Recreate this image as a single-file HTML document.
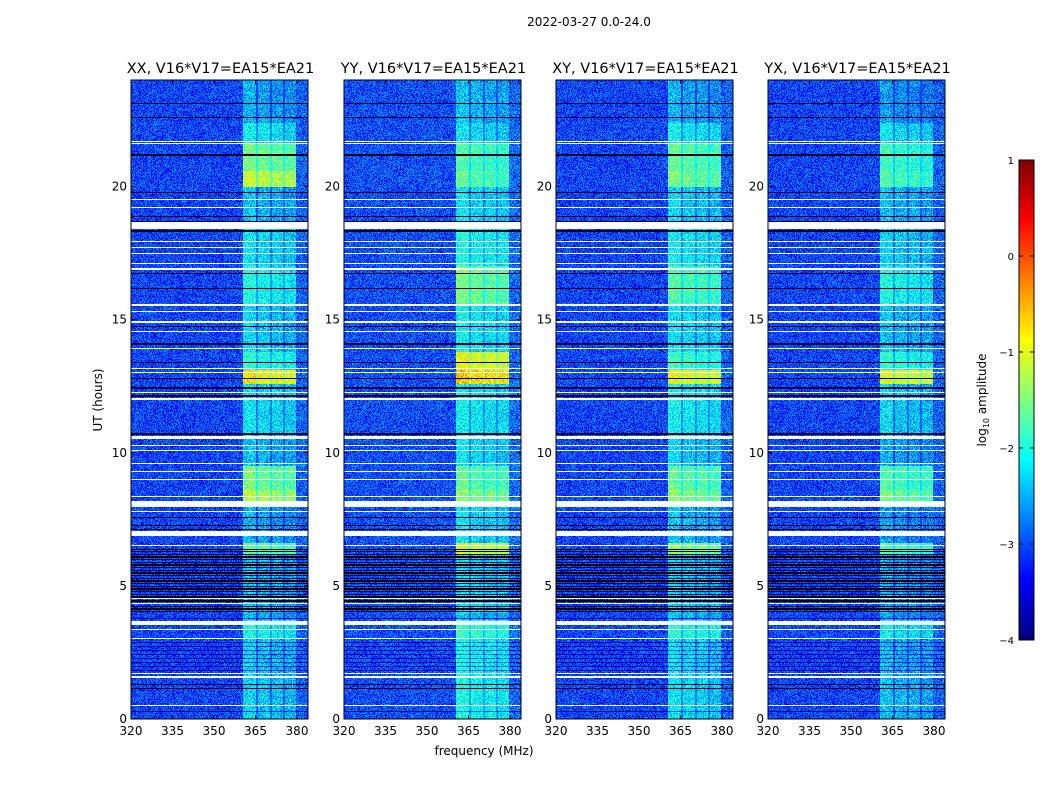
<!DOCTYPE html>
<html><head><meta charset="utf-8">
<style>
body{margin:0;background:#fff;width:1050px;height:800px;overflow:hidden;position:relative;font-family:"DejaVu Sans",sans-serif}
canvas{position:absolute;image-rendering:pixelated}
svg{position:absolute;left:0;top:0}
text{font-family:"DejaVu Sans","Liberation Sans",sans-serif;fill:#000}
</style></head>
<body>
<canvas id="c0" width="177" height="639" style="left:131px;top:80px"></canvas>
<canvas id="c1" width="177" height="639" style="left:344px;top:80px"></canvas>
<canvas id="c2" width="177" height="639" style="left:556px;top:80px"></canvas>
<canvas id="c3" width="177" height="639" style="left:768px;top:80px"></canvas>
<canvas id="cb" width="15" height="480" style="left:1019px;top:160px"></canvas>
<svg id="ov" width="1050" height="800"></svg>
<script>
const panelTitles=["XX, V16*V17=EA15*EA21","YY, V16*V17=EA15*EA21","XY, V16*V17=EA15*EA21","YX, V16*V17=EA15*EA21"];
const xTicks=[320,335,350,365,380];
const yTicks=[0,5,10,15,20];
const cbTicks=[1,0,-1,-2,-3,-4];
const segStart=[0,3,3.7,4,6.2,6.6,8.1,8.6,9.5,10.6,12.6,13.1,13.8,15.5,17,18.7,20,20.6,21.6,22.4];
const segEnd=[3,3.7,4,6.2,6.6,8.1,8.6,9.5,10.6,12.6,13.1,13.8,15.5,17,18.4,20,20.6,21.6,22.4,24];
const levelXX=[-2.3,-2.0,-2.5,-2.4,-1.6,-2.5,-1.2,-1.5,-2.4,-2.2,-0.8,-1.9,-2.3,-2.0,-2.2,-2.4,-1.1,-1.5,-2.1,-2.5];
const levelYY=[-2.0,-1.8,-2.4,-2.2,-1.0,-2.2,-1.4,-1.6,-2.2,-2.1,-0.6,-0.9,-2.1,-1.5,-2.0,-2.2,-1.6,-1.7,-2.2,-2.4];
const levelXY=[-2.2,-1.9,-2.4,-2.3,-1.4,-2.4,-1.4,-1.6,-2.3,-2.1,-0.9,-1.8,-2.2,-1.7,-2.1,-2.3,-1.5,-1.6,-2.1,-2.5];
const levelYX=[-2.4,-2.1,-2.6,-2.5,-1.7,-2.6,-1.5,-1.7,-2.5,-2.3,-1.0,-1.9,-2.4,-2.0,-2.3,-2.4,-1.7,-1.8,-2.2,-2.6];
const backgroundLevel=[-3.05,-3.0,-3.05,-3.05];
const bandLo=[360.5,365.9,371,375.7];
const bandHi=[365.2,370.2,374.9,379.6];
const bandOffset=[0,-0.1,-0.15,-0.2];
const flagStart=[0.48,1.55,1.68,3.0,3.33,3.53,4.33,4.5,6.48,6.88,7.78,7.98,8.33,8.98,9.28,9.58,10.08,10.24,10.5,11.98,12.23,12.98,13.13,13.88,14.53,14.86,15.28,15.53,16.85,17.08,17.48,17.68,17.93,18.4,19.18,19.48,21.58,21.68];
const flagEnd=[0.53,1.6,1.73,3.04,3.38,3.68,4.37,4.54,6.53,7.05,7.82,8.2,8.37,9.02,9.32,9.62,10.12,10.28,10.62,12.04,12.27,13.02,13.17,13.92,14.57,14.96,15.32,15.57,16.95,17.12,17.52,17.72,17.97,18.67,19.22,19.52,21.62,21.72];
const blackLines=[1.15,1.3,4.05,4.15,4.25,4.45,4.6,4.7,4.8,4.9,5.0,5.1,5.2,5.3,5.4,5.5,5.6,5.7,5.8,5.9,6.0,6.1,6.2,6.3,6.4,7.15,7.3,7.6,10.7,10.75,12.15,12.45,12.8,13.4,14.1,14.75,16.2,16.75,18.35,18.7,18.9,19.8,21.2,22.6,23.15];
const darkLines=[0.3,1.85,2.0,2.15,2.3,2.45,2.6,2.75,2.9,3.8];
const levels=[levelXX,levelYY,levelXY,levelYX];

const px0=[131,344,556,768], pw=177, top0=80, ph=639;
const fmin=320, fPerPx=15/41.5;
function xScale(f){return (f-fmin)/fPerPx;}
function yScale(h){return ph-h*(ph/24);}
function clamp(v){return Math.max(0,Math.min(1,v));}
function jet(t){return [clamp(Math.min(4*t-1.5,-4*t+4.5)),clamp(Math.min(4*t-0.5,-4*t+3.5)),clamp(Math.min(4*t+0.5,-4*t+2.5))];}
function hash(a,b,c){let h=(a*374761393+b*668265263+c*2147483647)|0;h=(h^(h>>>13))*1274126177;h=h^(h>>>16);return ((h>>>0)%10000)/10000;}

for(let p=0;p<4;p++){
  const cv=document.getElementById('c'+p), ctx=cv.getContext('2d');
  const img=ctx.createImageData(pw,ph), d=img.data;
  for(let y=0;y<ph;y++){
    const h=(ph-y-0.5)*24/ph;
    let white=false, black=false, dark=false;
    for(let i=0;i<flagStart.length;i++) if(h>=flagStart[i]&&h<=flagEnd[i]) white=true;
    for(let i=0;i<blackLines.length;i++) if(Math.abs(yScale(blackLines[i])-y)<0.6) black=true;
    for(let i=0;i<darkLines.length;i++) if(Math.abs(yScale(darkLines[i])-y)<0.6) dark=true;
    let seg=-1;
    for(let i=0;i<segStart.length;i++) if(h>=segStart[i]&&h<segEnd[i]) seg=i;
    for(let x=0;x<pw;x++){
      const k=(y*pw+x)*4;
      if(white){d[k]=d[k+1]=d[k+2]=255;d[k+3]=255;continue;}
      if(black){d[k]=d[k+1]=0;d[k+2]=30;d[k+3]=255;continue;}
      const f=fmin+(x+0.5)*fPerPx;
      let v=backgroundLevel[p];
      if(f>379.6) v+=0.15;
      let inBand=false, inGap=false;
      for(let b=0;b<4;b++){
        if(seg>=0&&f>=bandLo[b]&&f<=bandHi[b]){v=levels[p][seg]+bandOffset[b];inBand=true;}
        else if(seg>=0&&b<3&&f>bandHi[b]&&f<bandLo[b+1]){v=Math.max(v,levels[p][seg]-0.55);inGap=true;}
      }
      if(dark) v-=0.7;
      v+=(hash(x,y,p)-0.5)*(inGap?0.4:0.85);
      const c=jet((v+4)/5);
      d[k]=c[0]*255;d[k+1]=c[1]*255;d[k+2]=c[2]*255;d[k+3]=255;
    }
  }
  ctx.putImageData(img,0,0);
}
(function(){const cv=document.getElementById('cb'),ctx=cv.getContext('2d');
for(let y=0;y<480;y++){const c=jet(1-(y+0.5)/480);ctx.fillStyle=`rgb(${c[0]*255|0},${c[1]*255|0},${c[2]*255|0})`;ctx.fillRect(0,y,15,1);}})();

const NS='http://www.w3.org/2000/svg', ov=document.getElementById('ov');
function el(tag,attrs,txt){const e=document.createElementNS(NS,tag);for(const a in attrs)e.setAttribute(a,attrs[a]);if(txt!==undefined)e.textContent=txt;ov.appendChild(e);return e;}
let t=el('text',{x:589,y:26,'font-size':12,'text-anchor':'middle'},'2022-03-27 0.0-24.0');


for(let p=0;p<4;p++){
  const x0=px0[p];
  const fr=el('rect',{x:x0,y:top0,width:pw,height:ph,fill:'none',stroke:'#000','stroke-width':1});
  
  
  const pt=el('text',{x:x0+pw/2+1,y:73,'font-size':14.5,'text-anchor':'middle'},panelTitles[p]);
  
  
  xTicks.forEach(f=>{const x=x0+xScale(f);
    el('line',{x1:x,x2:x,y1:top0+ph,y2:top0+ph-4,stroke:'#000'});
    el('line',{x1:x,x2:x,y1:top0,y2:top0+4,stroke:'#000'});
    const l=el('text',{x:x,y:top0+ph+16,'font-size':12,'text-anchor':'middle'},String(f));
    
    
  });
  yTicks.forEach(h=>{const y=top0+yScale(h);
    el('line',{x1:x0,x2:x0+4,y1:y,y2:y,stroke:'#000'});
    el('line',{x1:x0+pw,x2:x0+pw-4,y1:y,y2:y,stroke:'#000'});
    const l=el('text',{x:x0-4,y:y+4,'font-size':12,'text-anchor':'end'},String(h));
    
    
  });
}
t=el('text',{x:484,y:755,'font-size':12,'text-anchor':'middle'},'frequency (MHz)');


t=el('text',{x:102,y:400,'font-size':12,'text-anchor':'middle',transform:'rotate(-90 102 400)'},'UT (hours)');


const cbf=el('rect',{x:1019,y:160,width:15,height:480,fill:'none',stroke:'#000'});


cbTicks.forEach(v=>{const y=160+(1-v)*96;
  el('line',{x1:1019,x2:1023,y1:y,y2:y,stroke:'#000'});
  el('line',{x1:1034,x2:1030,y1:y,y2:y,stroke:'#000'});
  const l=el('text',{x:1014,y:y+4,'font-size':10,'text-anchor':'end'},v<0?'\u2212'+(-v):String(v));
  
  
});
t=el('text',{x:986,y:400,'font-size':12,'text-anchor':'middle',transform:'rotate(-90 986 400)'});


t.innerHTML='log<tspan font-size="8" dy="3">10</tspan><tspan dy="-3"> amplitude</tspan>';
</script>
</body></html>
